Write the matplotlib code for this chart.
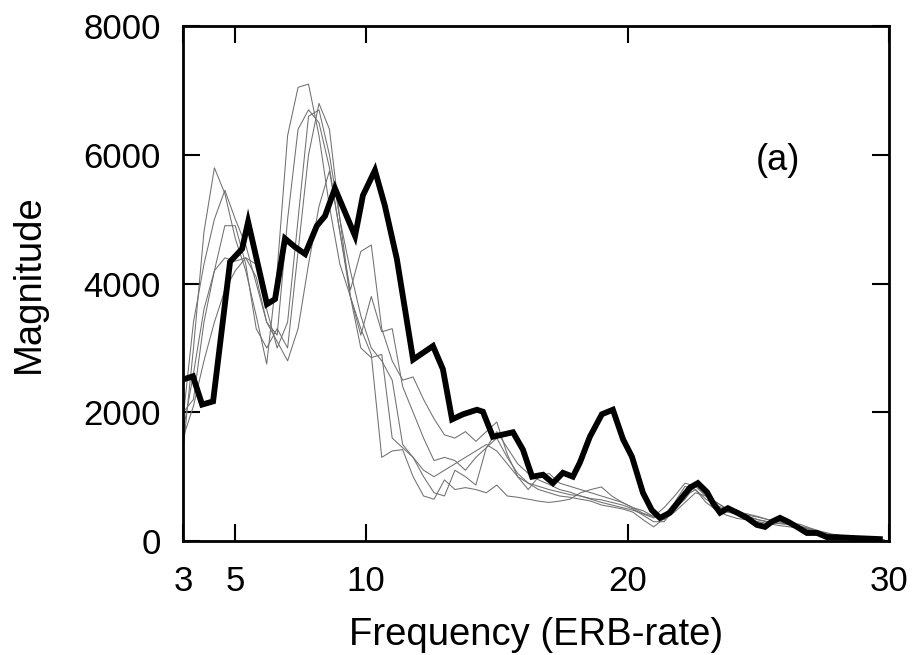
import numpy as np
import matplotlib
matplotlib.use("Agg")
import matplotlib.pyplot as plt

plt.rcParams['font.family'] = ['Liberation Sans', 'DejaVu Sans']

# thick black curve: (ERB-rate, magnitude)
black_erb = [3.00, 3.38, 3.73, 4.15, 4.80, 5.26, 5.49, 6.21, 6.52, 6.90, 7.28, 7.67,
             8.12, 8.43, 8.81, 9.58, 9.88, 10.34, 10.72, 11.18, 11.80, 12.56, 12.94,
             13.29, 13.71, 14.24, 14.47, 14.85, 15.62, 16.00, 16.35, 16.77, 17.15,
             17.53, 17.91, 18.18, 18.56, 19.02, 19.44, 19.83, 20.17, 20.59, 20.93,
             21.24, 21.62, 22.01, 22.39, 22.69, 23.04, 23.27, 23.54, 23.84, 24.19,
             24.57, 24.95, 25.26, 25.52, 25.83, 26.14, 26.48, 26.86, 27.25, 27.63,
             28.01, 28.77, 29.65]
black_mag = [2510, 2560, 2120, 2170, 4340, 4540, 4960, 3680, 3760, 4700, 4570, 4460,
             4900, 5050, 5480, 4740, 5370, 5760, 5210, 4380, 2820, 3030, 2670,
             1890, 1970, 2040, 2010, 1620, 1690, 1420, 1000, 1030, 900,
             1060, 1000, 1220, 1620, 1970, 2040, 1580, 1310, 750, 480,
             360, 440, 640, 830, 900, 760, 590, 440, 510, 440,
             360, 250, 220, 300, 360, 300, 220, 125, 125, 60,
             60, 45, 30]

# thin grey curves share one ERB grid
grey_erb = np.arange(3.0, 29.81, 0.4)
grey_1 = [1400, 3000, 4800, 5800, 5400, 4700, 4200, 3500, 2750, 4200, 6300, 7050, 7100, 6300,
          5200, 4300, 3800, 3300, 2900, 1300, 1400, 1420, 1000, 700, 650, 950, 800, 830, 800,
          750, 870, 700, 680, 650, 620, 600, 620, 650, 750, 800, 840, 700, 600, 520, 470, 380,
          330, 450, 600, 750, 700, 550, 450, 420, 380, 330, 300, 280, 260, 230, 180, 130, 90,
          70, 50, 40, 30, 20]
grey_2 = [1900, 3400, 4300, 5000, 5450, 5000, 4600, 4000, 3400, 3200, 5000, 6400, 6700, 6500,
          5800, 4800, 3900, 4500, 4600, 3300, 2800, 2500, 2550, 2200, 1900, 1650, 1600, 1700,
          1550, 1700, 1850, 1350, 1000, 800, 1000, 1050, 900, 850, 800, 750, 700, 650, 600,
          520, 430, 380, 520, 700, 900, 850, 700, 600, 500, 480, 400, 370, 330, 300, 280, 260,
          200, 150, 110, 80, 60, 40, 30, 20]
grey_3 = [1700, 2600, 3600, 4200, 4900, 4900, 4300, 3300, 3000, 3300, 3000, 4500, 6000, 6800,
          6400, 5000, 3800, 3200, 3800, 3250, 3300, 2400, 2000, 1600, 1250, 1300, 1250, 1100,
          1300, 1450, 1700, 1450, 1200, 1050, 950, 880, 800, 760, 700, 650, 600, 560, 520, 480,
          420, 360, 400, 600, 850, 800, 650, 550, 500, 430, 380, 330, 290, 270, 250, 220, 170,
          140, 100, 70, 50, 40, 30, 20]
grey_4 = [2000, 2200, 3400, 4200, 4400, 4350, 4400, 4100, 3400, 3100, 2800, 3300, 4300, 5200,
          5750, 4800, 3800, 3000, 2850, 2900, 1600, 1450, 1300, 1000, 750, 700, 1100, 1000, 870,
          1450, 1600, 1300, 1050, 900, 800, 750, 700, 680, 650, 620, 560, 530, 500, 450, 330,
          220, 350, 550, 700, 800, 600, 480, 400, 350, 330, 300, 270, 240, 220, 200, 160, 120,
          90, 70, 50, 40, 30, 20]
grey_5 = [1600, 2100, 2800, 3400, 3900, 4200, 4400, 4300, 3600, 3000, 3400, 5000, 6600, 6700,
          6000, 5000, 4200, 3500, 3000, 2800, 2500, 1500, 1300, 1100, 1000, 1100, 1200, 1300,
          1400, 1500, 1400, 1200, 1000, 900, 850, 800, 760, 720, 700, 660, 640, 600, 560, 500,
          400, 300, 300, 500, 650, 870, 700, 600, 500, 450, 420, 380, 330, 300, 270, 230, 190,
          140, 100, 80, 60, 40, 30, 20]

x_ticks = [3, 5, 10, 20, 30]
y_ticks = [0, 2000, 4000, 6000, 8000]

fig = plt.figure(figsize=(9.16, 6.55), dpi=100)
ax = fig.add_axes([0.1998, 0.174, 0.7707, 0.786])

for g in [grey_1, grey_2, grey_3, grey_4, grey_5]:
    ax.plot(grey_erb, g, color="#707070", lw=0.75)
ax.plot(black_erb, black_mag, color="black", lw=4.2, solid_joinstyle="miter")

ax.set_xlim(3, 30)
ax.set_ylim(0, 8000)
ax.set_xticks(x_ticks)
ax.set_yticks(y_ticks)
ax.tick_params(direction="in", length=12, width=1.5, top=True, right=True,
               labelsize=25)
ax.tick_params(axis="x", pad=17)
ax.tick_params(axis="y", pad=16)
for s in ax.spines.values():
    s.set_linewidth(2)

ax.set_xlabel("Frequency (ERB-rate)", fontsize=27.5, labelpad=14)
ax.set_ylabel("Magnitude", fontsize=27.5, labelpad=26)
ax.text(0.843, 0.74, "(a)", transform=ax.transAxes, fontsize=26,
        ha="center", va="center")

fig.savefig("out.png", dpi=100)
